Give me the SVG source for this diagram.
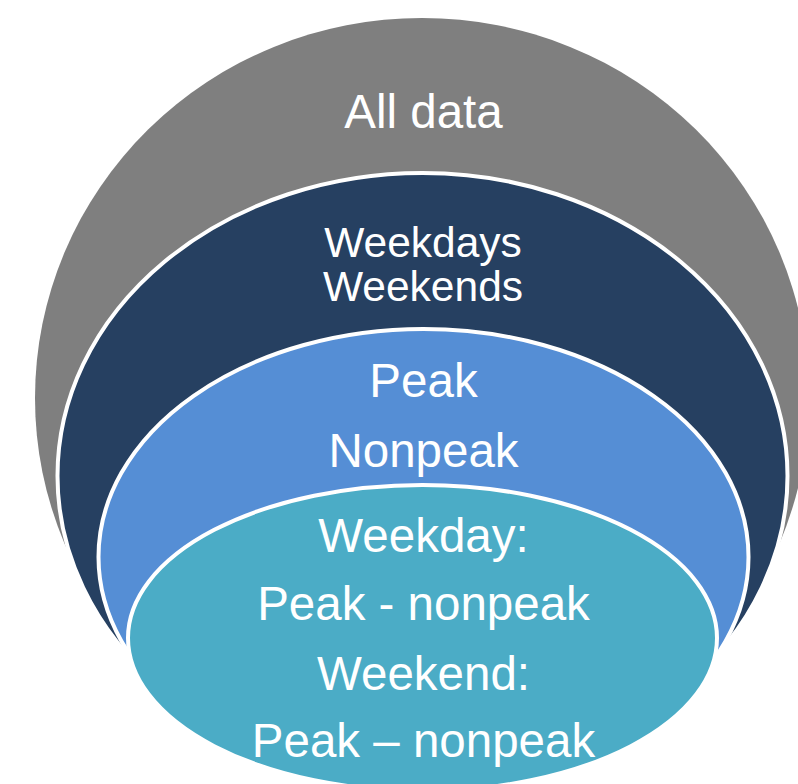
<svg xmlns="http://www.w3.org/2000/svg" width="798" height="784" viewBox="0 0 798 784">
  <style>
    .lbl { font-family: "Liberation Sans", Arial, sans-serif; fill: #FFFFFF; text-anchor: middle; }
    .big { font-size: 47.5px; }
    .mid { font-size: 42.5px; }
    .ring { stroke: #FFFFFF; stroke-width: 4; }
  </style>
  <rect width="798" height="784" fill="#FFFFFF"/>
  <!-- outermost level -->
  <g id="all-data">
    <ellipse cx="422" cy="398" rx="387" ry="380" fill="#7F7F7F"/>
    <text class="lbl big" x="423.5" y="128">All data</text>
  </g>
  <!-- weekday / weekend split -->
  <g id="weekdays-weekends">
    <ellipse class="ring" cx="422.5" cy="476" rx="365" ry="303" fill="#264061"/>
    <text class="lbl mid" x="423" y="257">Weekdays</text>
    <text class="lbl mid" x="423" y="301">Weekends</text>
  </g>
  <!-- peak / nonpeak split -->
  <g id="peak-nonpeak">
    <ellipse class="ring" cx="423.5" cy="557" rx="325" ry="228" fill="#558ED5"/>
    <text class="lbl big" x="423.5" y="397">Peak</text>
    <text class="lbl big" x="423.5" y="467">Nonpeak</text>
  </g>
  <!-- combined split -->
  <g id="combined">
    <ellipse class="ring" cx="422.5" cy="638" rx="294.5" ry="153" fill="#4BACC6"/>
    <text class="lbl big" x="423.5" y="552">Weekday:</text>
    <text class="lbl big" x="423.5" y="620">Peak - nonpeak</text>
    <text class="lbl big" x="423.5" y="690">Weekend:</text>
    <text class="lbl big" x="423.5" y="757">Peak – nonpeak</text>
  </g>
  <g id="connectors"/>
</svg>
